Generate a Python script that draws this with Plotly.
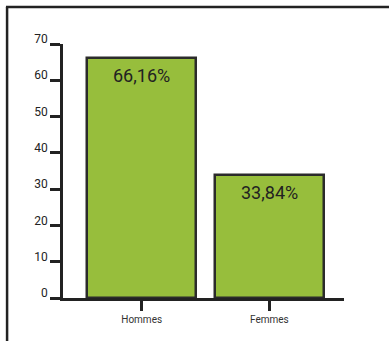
import plotly.graph_objects as go

# Répartition par sexe
categories = ["Hommes", "Femmes"]
shares = [66.16, 33.84]
share_labels = ["66,16%", "33,84%"]
y_ticks = [0, 10, 20, 30, 40, 50, 60, 70]

GREEN = "#97be3c"
INK = "#222222"
FONT = "Roboto"

fig = go.Figure()
fig.add_trace(go.Bar(
    x=categories,
    y=shares,
    width=0.85,
    marker=dict(color=GREEN, line=dict(color="#2b2b2b", width=2.5)),
    hoverinfo="skip",
))

# percentage labels just below the top of each bar
for cat, val, lab in zip(categories, shares, share_labels):
    fig.add_annotation(
        x=cat, y=val, text=lab, showarrow=False,
        yanchor="top", yshift=-5,
        font=dict(family=FONT, size=18, color=INK),
    )

# frame around the panel (left and top edges)
fig.add_shape(type="line", xref="paper", yref="paper",
              x0=-0.199, x1=-0.199, y0=-0.3, y1=1.1455,
              line=dict(color=INK, width=2.5))
fig.add_shape(type="line", xref="paper", yref="paper",
              x0=-0.203, x1=1.3, y0=1.1455, y1=1.1455,
              line=dict(color=INK, width=2.5))

fig.update_layout(
    width=389, height=341,
    margin=dict(l=62.5, r=45, t=44, b=42.7),
    paper_bgcolor="white", plot_bgcolor="white",
    showlegend=False,
    font=dict(family=FONT, color=INK),
    bargap=0,
)
fig.update_xaxes(
    type="category",
    range=[-0.616, 1.584],
    showline=True, linecolor=INK, linewidth=2.5,
    ticks="outside", ticklen=10, tickwidth=2.5, tickcolor=INK,
    tickfont=dict(family=FONT, size=10, color="#333333"),
    showgrid=False, zeroline=False,
    fixedrange=True,
)
fig.update_yaxes(
    range=[0, 70],
    tickvals=y_ticks,
    showline=True, linecolor=INK, linewidth=2.5,
    ticks="outside", ticklen=10, tickwidth=2.5, tickcolor=INK,
    tickfont=dict(family=FONT, size=12, color=INK),
    ticklabelshift=-5,
    showgrid=False, zeroline=False,
    fixedrange=True,
)

fig.write_html("out.html", config={"displayModeBar": False})
